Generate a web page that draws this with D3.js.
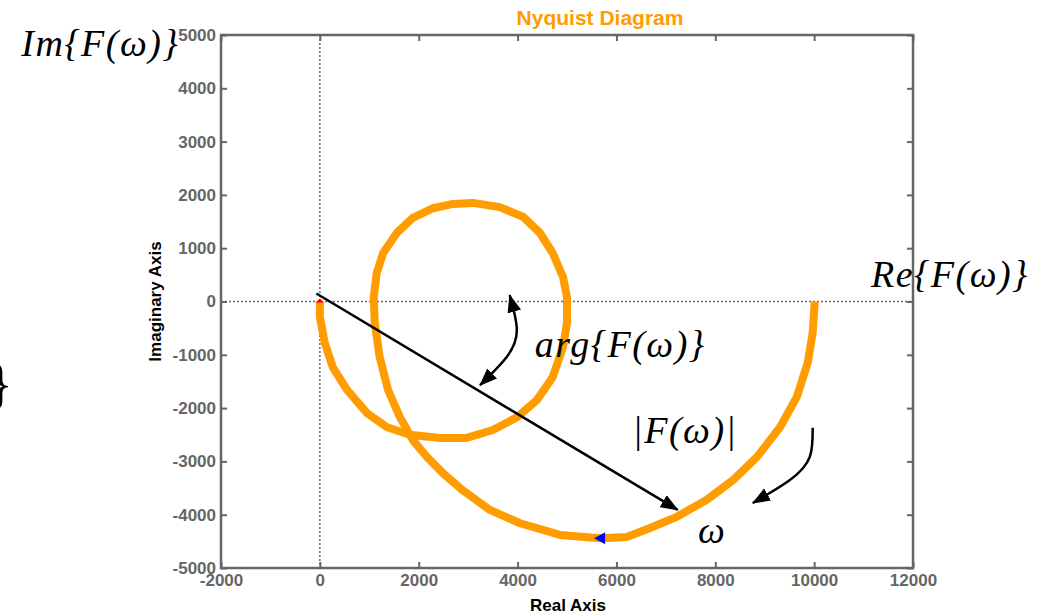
<!DOCTYPE html>
<html>
<head>
<meta charset="utf-8">
<script src="https://cdn.jsdelivr.net/npm/d3@7"></script>
<style>
  body { margin: 0; background: #fff; }
  svg { display: block; }
</style>
</head>
<body>
<svg id="chart" width="1046" height="616"></svg>
<script>
// tick values
var xTicks = [-2000, 0, 2000, 4000, 6000, 8000, 10000, 12000];
var yTicks = [-5000, -4000, -3000, -2000, -1000, 0, 1000, 2000, 3000, 4000, 5000];

// nyquist curve (real, imag)
var nyqRe = [0, 0, 100, 260, 550, 950, 1360, 1820, 2430, 2970, 3500, 3990, 4390, 4710, 4920, 5000,
             5000, 4920, 4710, 4450, 4110, 3640, 3100, 2690, 2290, 1880, 1560, 1280, 1150, 1090,
             1110, 1210, 1380, 1620, 1880, 2170, 2490, 2890, 3440, 4050, 4860, 5670, 6210, 6680,
             7220, 7830, 8360, 8840, 9310, 9650, 9870, 9970, 10010, 10010];
var nyqIm = [0, -290, -780, -1230, -1660, -2090, -2360, -2500, -2560, -2560, -2410, -2170, -1850, -1420, -850, -400,
             80, 460, 910, 1290, 1590, 1770, 1850, 1830, 1750, 1570, 1290, 910, 530, 80,
             -400, -1040, -1660, -2170, -2600, -2920, -3220, -3540, -3910, -4160, -4380, -4440, -4420, -4250,
             -4040, -3720, -3350, -2920, -2360, -1790, -1150, -590, -30, 0];

// annotation arrows
var magRe = [-70, 7240];
var magIm = [150, -3910];
var argRe = [3840, 3985, 3780, 3240];
var argIm = [120, -535, -1040, -1570];
var omgRe = [9970, 9910, 9510, 8760];
var omgIm = [-2370, -2920, -3350, -3780];

// annotation labels
var labels = [
  {t: "Im{F(\u03c9)}", re: -6040, im: 4600},
  {t: "Re{F(\u03c9)}", re: 11150, im: 270},
  {t: "arg{F(\u03c9)}", re: 4350, im: -1040},
  {t: "|F(\u03c9)|", re: 6320, im: -2660},
  {t: "\u03c9", re: 7650, im: -4530}
];

var orange = "#ff9c00";
var gray = "#666666";

var svg = d3.select("#chart");
var x = d3.scaleLinear().domain([-2000, 12000]).range([221, 913]);
var y = d3.scaleLinear().domain([-5000, 5000]).range([568, 35]);

// arrow heads
var defs = svg.append("defs");
defs.append("marker")
    .attr("id", "head")
    .attr("viewBox", "0 0 18 14")
    .attr("refX", 17).attr("refY", 7)
    .attr("markerWidth", 18).attr("markerHeight", 14)
    .attr("markerUnits", "userSpaceOnUse")
    .attr("orient", "auto-start-reverse")
    .append("path")
    .attr("d", "M0,0 L18,7 L0,14 Z")
    .attr("fill", "#000");

// dotted zero lines
svg.append("line")
    .attr("x1", x(0)).attr("x2", x(0))
    .attr("y1", y(5000)).attr("y2", y(-5000))
    .attr("stroke", gray).attr("stroke-width", 1.5)
    .attr("stroke-dasharray", "2,2");
svg.append("line")
    .attr("x1", x(-2000)).attr("x2", x(12000))
    .attr("y1", y(0)).attr("y2", y(0))
    .attr("stroke", gray).attr("stroke-width", 1.5)
    .attr("stroke-dasharray", "2,2");

// axes with inward ticks
function fmt(d){ return String(d); }
function styleAxis(g){
    g.select(".domain").remove();
    g.selectAll(".tick line").attr("stroke", gray).attr("stroke-width", 2);
    g.selectAll(".tick text")
        .attr("fill", gray)
        .style("font-family", "'Liberation Sans', Arial, sans-serif")
        .style("font-weight", "bold")
        .style("font-size", "17px");
}
svg.append("g").attr("transform", "translate(0," + y(-5000) + ")")
    .call(d3.axisBottom(x).tickValues(xTicks).tickSize(-6).tickPadding(6).tickFormat(fmt))
    .call(styleAxis);
svg.append("g").attr("transform", "translate(" + x(-2000) + ",0)")
    .call(d3.axisLeft(y).tickValues(yTicks).tickSize(-6).tickPadding(5).tickFormat(fmt))
    .call(styleAxis);
svg.append("g").attr("transform", "translate(0," + y(5000) + ")")
    .call(d3.axisTop(x).tickValues(xTicks).tickSize(-6).tickFormat(""))
    .call(styleAxis);
svg.append("g").attr("transform", "translate(" + x(12000) + ",0)")
    .call(d3.axisRight(y).tickValues(yTicks).tickSize(-6).tickFormat(""))
    .call(styleAxis);

svg.append("rect")
    .attr("x", x(-2000)).attr("y", y(5000))
    .attr("width", x(12000) - x(-2000)).attr("height", y(-5000) - y(5000))
    .attr("fill", "none").attr("stroke", gray).attr("stroke-width", 2.5);

// nyquist curve
var pts = nyqRe.map(function(r, i){ return [r, nyqIm[i]]; });
svg.append("path")
    .datum(pts)
    .attr("d", d3.line().x(function(d){ return x(d[0]); }).y(function(d){ return y(d[1]); }))
    .attr("fill", "none")
    .attr("stroke", orange)
    .attr("stroke-width", 8)
    .attr("stroke-linejoin", "round");

// start marker (red) and direction marker (blue)
svg.append("path")
    .attr("d", "M-4,1 L4,1 L0,-3 Z")
    .attr("transform", "translate(" + x(0) + "," + y(0) + ")")
    .attr("fill", "#ff0000");
svg.append("path")
    .attr("d", "M-6,0 L5,-6 L5,6 Z")
    .attr("transform", "translate(" + x(5670) + "," + y(-4440) + ")")
    .attr("fill", "#0000ff");

// magnitude arrow
svg.append("line")
    .attr("x1", x(magRe[0])).attr("y1", y(magIm[0]))
    .attr("x2", x(magRe[1])).attr("y2", y(magIm[1]))
    .attr("stroke", "#000").attr("stroke-width", 2.5)
    .attr("marker-end", "url(#head)");

var curve = d3.line().curve(d3.curveNatural)
    .x(function(d){ return x(d[0]); }).y(function(d){ return y(d[1]); });

svg.append("path")
    .datum(argRe.map(function(r, i){ return [r, argIm[i]]; }))
    .attr("d", curve)
    .attr("fill", "none").attr("stroke", "#000").attr("stroke-width", 2.5)
    .attr("marker-start", "url(#head)")
    .attr("marker-end", "url(#head)");

svg.append("path")
    .datum(omgRe.map(function(r, i){ return [r, omgIm[i]]; }))
    .attr("d", curve)
    .attr("fill", "none").attr("stroke", "#000").attr("stroke-width", 2.5)
    .attr("marker-end", "url(#head)");

// math labels
svg.selectAll("text.math")
    .data(labels)
    .enter().append("text")
    .attr("class", "math")
    .attr("x", function(d){ return x(d.re); })
    .attr("y", function(d){ return y(d.im); })
    .style("font-family", "'Liberation Serif', 'Times New Roman', serif")
    .style("font-style", "italic")
    .style("font-size", "38px")
    .style("letter-spacing", "1.5px")
    .attr("fill", "#000")
    .text(function(d){ return d.t; });

// clipped brace at left edge
svg.append("text")
    .attr("x", -13).attr("y", 402)
    .style("font-family", "'Liberation Serif', 'Times New Roman', serif")
    .style("font-size", "54px")
    .text("}");

// titles
svg.append("text")
    .attr("x", 600).attr("y", 25)
    .attr("text-anchor", "middle")
    .attr("fill", orange)
    .style("font-family", "'Liberation Sans', Arial, sans-serif")
    .style("font-weight", "bold")
    .style("font-size", "21px")
    .text("Nyquist Diagram");
svg.append("text")
    .attr("x", 568).attr("y", 611)
    .attr("text-anchor", "middle")
    .attr("fill", "#000")
    .style("font-family", "'Liberation Sans', Arial, sans-serif")
    .style("font-weight", "bold")
    .style("font-size", "17px")
    .text("Real Axis");
svg.append("text")
    .attr("transform", "translate(161," + y(0) + ") rotate(-90)")
    .attr("text-anchor", "middle")
    .attr("fill", "#000")
    .style("font-family", "'Liberation Sans', Arial, sans-serif")
    .style("font-weight", "bold")
    .style("font-size", "17px")
    .text("Imaginary Axis");
</script>
</body>
</html>
